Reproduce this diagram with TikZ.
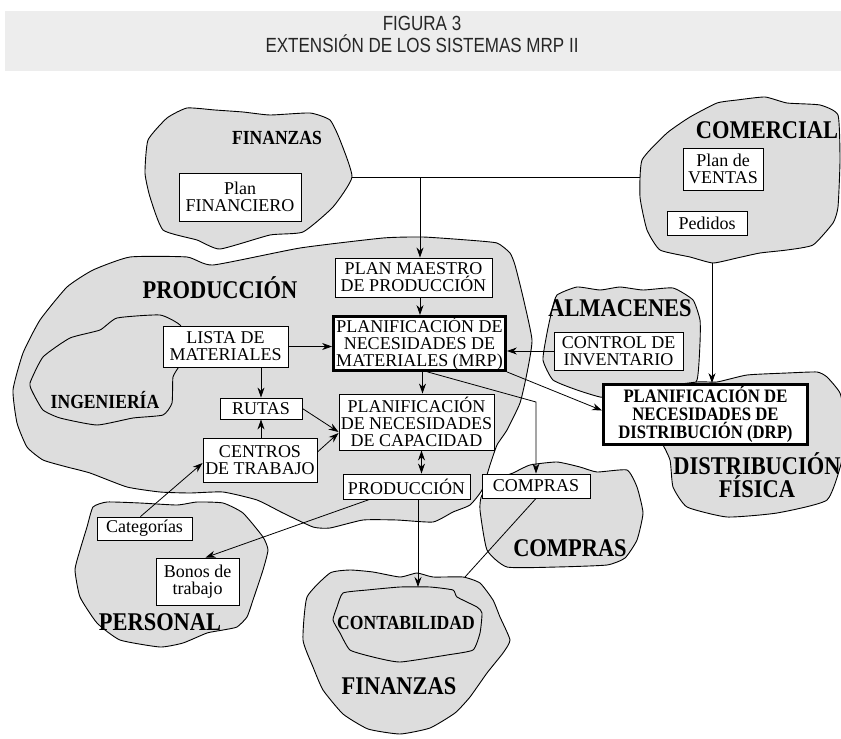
\documentclass[tikz,border=0pt]{standalone}
\usepackage{fontspec}
\setmainfont{Liberation Serif}
\newfontfamily\condbf[FakeStretch=0.88]{Liberation Serif}
\newfontfamily\titlefont[FakeStretch=0.83]{Liberation Sans}
\usetikzlibrary{arrows.meta}

\definecolor{bandgray}{RGB}{237,237,237}
\definecolor{blobgray}{RGB}{221,221,221}

\tikzset{
	blob/.style={draw=black, fill=blobgray, line width=0.9pt},
	box/.style={draw, fill=white, line width=0.9pt, inner sep=0pt, align=center,
		font=\fontsize{18}{16.8}\selectfont},
	mainbox/.style={box, line width=2.8pt},
	area/.style={font=\condbf\bfseries\fontsize{25.5}{17.5}\selectfont, align=center},
	subarea/.style={font=\condbf\bfseries\fontsize{20}{17}\selectfont, align=center},
	link/.style={line width=0.8pt},
	arr/.style={link, -{Stealth[length=10pt,width=7pt]}},
	dblarr/.style={link, {Stealth[length=10pt,width=7pt]}-{Stealth[length=10pt,width=7pt]}}
}

\begin{document}
\begin{tikzpicture}[x=1pt, y=-1pt]
	\useasboundingbox (0,0) rectangle (841,739);
	% title band
	\fill[bandgray] (5,11) rectangle (841,71);
	\node[font=\titlefont\fontsize{20.5}{22}\selectfont, align=center, text=black!85] (title) at (422,34) {FIGURA 3\\EXTENSIÓN DE LOS SISTEMAS MRP II};

	% areas
	\draw[blob] plot[smooth cycle, tension=.3] coordinates {(145,173) (148,140) (167,118) (187,108) (215,110) (243,112) (270,115) (310,113) (330,120) (340,140) (352,177) (333,207) (303,232) (270,235) (220,249) (197,240) (163,230) (150,197)};
	\draw[blob] plot[smooth cycle, tension=.3] coordinates {(642,160) (667,133) (690,117) (717,103) (737,100) (765,97) (787,103) (820,105) (838,115) (840,160) (838,207) (833,223) (813,245) (787,250) (760,253) (737,258) (713,263) (690,257) (660,250) (647,230) (640,197)};
	\draw[blob] plot[smooth cycle, tension=.3] coordinates {(13,390) (23,353) (40,320) (67,287) (93,270) (130,257) (187,257) (213,265) (300,248) (383,238) (423,237) (467,240) (497,243) (510,253) (515,265) (523,297) (532,340) (527,373) (520,403) (507,430) (497,445) (490,465) (482,490) (470,505) (453,512) (433,522) (397,520) (363,520) (330,528) (313,527) (283,513) (257,500) (223,492) (190,493) (160,492) (127,487) (90,473) (67,467) (43,460) (27,447) (17,423)};
	\draw[blob] plot[smooth cycle, tension=.3] coordinates {(190,345) (180,325) (160,315) (117,318) (100,330) (70,338) (43,357) (30,383) (33,393) (43,410) (60,418) (97,425) (133,418) (163,415) (172,403) (173,377) (180,365)};
	\draw[blob] plot[smooth cycle, tension=.3] coordinates {(543,360) (547,333) (552,310) (557,295) (577,287) (600,290) (620,287) (643,290) (673,288) (693,300) (700,320) (700,343) (697,380) (680,395) (620,398) (600,397) (577,390) (553,380)};
	\draw[blob] plot[smooth cycle, tension=.3] coordinates {(650,390) (697,382) (717,382) (747,375) (787,373) (817,372) (827,377) (840,393) (845,420) (842,460) (827,500) (777,513) (727,517) (687,507) (673,487) (670,460) (660,440) (640,420)};
	\draw[blob] plot[smooth cycle, tension=.3] coordinates {(482,495) (500,478) (513,473) (530,465) (557,462) (580,467) (597,472) (627,470) (637,487) (643,513) (637,540) (625,558) (607,565) (557,567) (507,567) (487,550) (480,510)};
	\draw[blob] plot[smooth cycle, tension=.3] coordinates {(87,527) (93,507) (107,502) (140,503) (177,505) (197,502) (223,503) (243,513) (263,537) (268,550) (263,570) (253,600) (247,617) (237,627) (223,630) (207,633) (183,643) (160,647) (120,640) (97,623) (80,597) (75,570) (80,550)};
	\draw[blob] plot[smooth cycle, tension=.3] coordinates {(307,597) (330,573) (350,570) (373,572) (400,577) (417,573) (433,577) (463,577) (480,583) (493,600) (500,617) (510,640) (503,653) (487,673) (470,697) (455,713) (430,728) (400,734) (368,729) (343,714) (323,690) (313,667) (303,640)};
	\draw[blob] plot[smooth cycle, tension=.3] coordinates {(337,607) (343,593) (367,590) (400,587) (430,587) (453,590) (457,597) (477,607) (482,613) (480,633) (473,650) (447,655) (400,662) (373,657) (350,650) (340,633) (333,620)};

	% area names
	\node[subarea] (finanzas) at (277,138) {FINANZAS};
	\node[area] (comercial) at (767,130) {COMERCIAL};
	\node[area] (produccion) at (220,288) {PRODUCCIÓN};
	\node[subarea] (ingenieria) at (105,400) {INGENIERÍA};
	\node[area] (almacenes) at (620,308) {ALMACENES};
	\node[area] (distribucion) at (757,475) {DISTRIBUCIÓN\\FÍSICA};
	\node[area] (comprasarea) at (570,548) {COMPRAS};
	\node[area] (personal) at (160,622) {PERSONAL};
	\node[subarea] (contabilidad) at (406,623) {CONTABILIDAD};
	\node[area] (finanzasbot) at (399,686) {FINANZAS};

	% boxes
	\node[box, minimum width=122, minimum height=48] (planfin) at (240,197) {Plan\\FINANCIERO};
	\node[box, minimum width=80, minimum height=42] (ventas) at (723,169) {Plan de\\VENTAS};
	\node[box, minimum width=80, minimum height=24] (pedidos) at (707,223) {Pedidos};
	\node[box, minimum width=157, minimum height=39] (maestro) at (413.5,277.5) {PLAN MAESTRO\\DE PRODUCCIÓN};
	\node[mainbox, minimum width=172, minimum height=54] (mrp) at (419.5,343.5) {PLANIFICACIÓN DE\\NECESIDADES DE\\MATERIALES (MRP)};
	\node[box, minimum width=155, minimum height=56] (capacidad) at (416.5,422) {PLANIFICACIÓN\\DE NECESIDADES\\DE CAPACIDAD};
	\node[box, minimum width=125, minimum height=41] (lista) at (225.5,346.5) {LISTA DE\\MATERIALES};
	\node[box, minimum width=82, minimum height=21] (rutas) at (261,408.5) {RUTAS};
	\node[box, minimum width=114, minimum height=44] (centros) at (260,460) {CENTROS\\DE TRABAJO};
	\node[box, minimum width=127, minimum height=25] (prodbox) at (406.5,486.5) {PRODUCCIÓN};
	\node[box, minimum width=108, minimum height=24] (compras) at (536,486) {COMPRAS};
	\node[box, minimum width=129, minimum height=38] (control) at (618.5,351) {CONTROL DE\\INVENTARIO};
	\node[mainbox, minimum width=204, minimum height=60, font=\condbf\bfseries\fontsize{19}{18}\selectfont] (drp) at (705.5,414.5) {PLANIFICACIÓN DE\\NECESIDADES DE\\DISTRIBUCIÓN (DRP)};
	\node[box, minimum width=95, minimum height=23] (categorias) at (144.5,528.5) {Categorías};
	\node[box, minimum width=83, minimum height=47] (bonos) at (197.5,581.5) {Bonos de\\trabajo};

	% connectors
	\coordinate (fintip) at (352,177);
	\coordinate (comleft) at (640,177);
	\coordinate (split) at (420,177);
	\coordinate (combot) at (712,263);
	\coordinate (bend) at (536,402);
	\coordinate (conttop) at (418,587);
	\coordinate (finedge) at (465,577);
	\draw[link] (fintip) -- (comleft);
	\draw[arr] (split) -- (split |- maestro.north);
	\draw[arr] (maestro.south -| split) -- (mrp.north -| split);
	\draw[arr] (lista.east) -- (lista.east -| mrp.west);
	\draw[arr] (control.west) -- (control.west -| mrp.east);
	\draw[arr] (rutas.north |- lista.south) -- (rutas.north);
	\draw[arr] (centros.north -| rutas) -- (rutas.south);
	\draw[arr] (rutas.east) -- ([yshift=-10pt]capacidad.west);
	\draw[arr] ([yshift=8pt]centros.east) -- ([yshift=-11pt]capacidad.west);
	\draw[arr] ([xshift=3pt]mrp.south) -- ([xshift=3pt]mrp.south |- capacidad.north);
	\draw[dblarr] ([xshift=5pt]capacidad.south) -- ([xshift=5pt]capacidad.south |- prodbox.north);
	\draw[arr] ([xshift=8pt]mrp.south) -- (bend) -- (compras.north);
	\draw[arr] (mrp.south east) -- ([yshift=4pt]drp.west);
	\draw[arr] (combot) -- (combot |- drp.north);
	\draw[arr] ([xshift=-4pt]categorias.north) -- ([yshift=-3pt]centros.west);
	\draw[arr] ([xshift=-37pt]prodbox.south) -- ([xshift=8pt]bonos.north);
	\draw[arr] (prodbox.south -| conttop) -- (conttop);
	\draw[link] (compras.south) -- (finedge);
\end{tikzpicture}
\end{document}
